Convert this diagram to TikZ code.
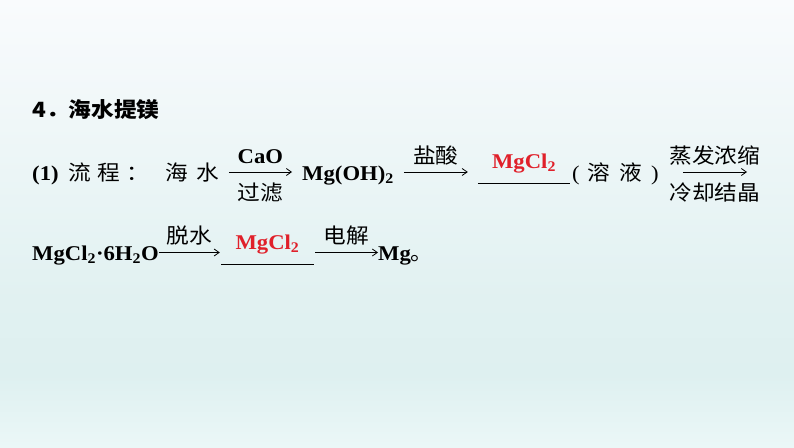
\documentclass[tikz,border=0pt]{standalone}
\usepackage{fontspec}
\setmainfont{Liberation Serif}[FakeStretch=1.08]
\newfontfamily\cjk{Noto Sans CJK SC}[FakeStretch=1.08]
\usetikzlibrary{arrows.meta}
\definecolor{bgtop}{HTML}{F9FBFD}
\definecolor{bgmid}{HTML}{E1F1F1}
\definecolor{bglow}{HTML}{DEF0F0}
\definecolor{bgbot}{HTML}{EBF7F7}
\definecolor{ansred}{HTML}{E0202A}

\begin{document}
\begin{tikzpicture}[x=1pt,y=-1pt,
  txt/.style={inner sep=0pt,anchor=base west,text height=20pt,text depth=4pt,font=\fontsize{21}{25}\selectfont},
  chem/.style={txt,font=\fontsize{21}{25}\selectfont\bfseries},
  zh/.style={txt,font=\fontsize{21}{25}\selectfont\cjk},
  ans/.style={inner sep=0pt,anchor=base,minimum width=92pt,text height=16pt,text depth=15pt,text=ansred,font=\fontsize{21}{25}\selectfont\bfseries},
  arr/.style={-{Straight Barb[length=5pt,width=7pt]},line width=0.8pt},
  blank/.style={line width=1.3pt},
  lblup/.style={midway,anchor=base,yshift=9pt,inner sep=0pt,font=\fontsize{21}{25}\selectfont},
  lbldn/.style={midway,anchor=base,yshift=-28pt,inner sep=0pt,font=\fontsize{21}{25}\selectfont}
]
\useasboundingbox (0,0) rectangle (794,447);
\shade[top color=bgtop,bottom color=bgmid] (0,0) rectangle (794,300);
\shade[top color=bgmid,bottom color=bglow] (0,300) rectangle (794,375);
\shade[top color=bglow,bottom color=bgbot] (0,375) rectangle (794,447);

\node[txt,font=\fontsize{21}{25}\selectfont\cjk\bfseries] (title) at (32,117) {4．海水提镁};

\node[chem] (num) at (32,180) {(1)};
\node[zh] (liucheng) at (68,180) {流\hspace{7pt}程\hspace{6pt}：};
\node[zh] (haishui) at (165,180) {海\hspace{9pt}水};
\node[chem] (mgoh) at (302,180) {Mg(OH)\textsubscript{2}};
\node[ans] (ans1) at (524,168) {MgCl\textsubscript{2}};
\node[txt] (rongye) at (572,180) {(\hspace{8pt}{\cjk 溶}\hspace{9pt}{\cjk 液}\hspace{9pt})};
\coordinate (end1) at (747,172);

\node[chem] (hydrate) at (32,260.5) {MgCl\textsubscript{2}·6H\textsubscript{2}O};
\node[ans] (ans2) at (267.5,249) {MgCl\textsubscript{2}};
\node[chem] (mg) at (378,260.5) {Mg{\cjk\mdseries 。}};

\draw[blank] (ans1.south west) -- (ans1.south east);
\draw[blank] (ans2.south west) -- (ans2.south east);

\draw[arr] ([xshift=9pt]haishui.east) -- ([xshift=-10pt]mgoh.west)
  node[lblup] {\textbf{CaO}} node[lbldn] {\cjk 过滤};
\draw[arr] ([xshift=10pt]mgoh.east) -- ([xshift=-10pt]mgoh.east -| ans1.west)
  node[lblup] {\cjk 盐酸};
\draw[arr] ([xshift=24pt]rongye.east) -- (end1)
  node[lblup] {\cjk 蒸发浓缩} node[lbldn] {\cjk 冷却结晶};

\draw[arr] (hydrate.east) -- ([xshift=-1.5pt]hydrate.east -| ans2.west)
  node[lblup] {\cjk 脱水};
\draw[arr] ([xshift=1.5pt]hydrate.east -| ans2.east) -- (mg.west)
  node[lblup] {\cjk 电解};

\end{tikzpicture}
\end{document}
